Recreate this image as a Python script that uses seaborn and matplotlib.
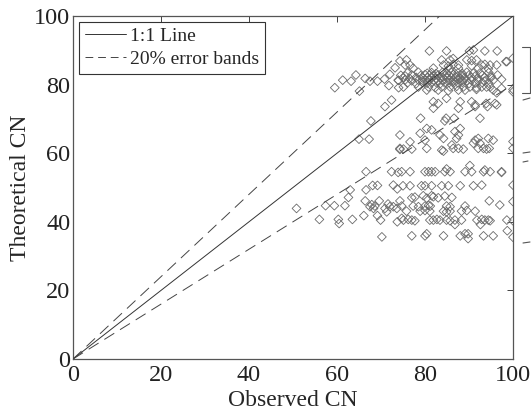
import numpy as np
import pandas as pd
import matplotlib
matplotlib.use("Agg")
import matplotlib.pyplot as plt
from matplotlib.lines import Line2D
import seaborn as sns

# ---------------- data ----------------
# sparse points, upper-left of the upper band
obs_a = [59.5, 61.3, 63.2, 64.3, 65.1, 66.4, 67.5, 69.2, 70.8, 72.0, 73.2, 74.3, 73.9, 71.8, 74.0, 72.4, 70.9,
         67.7, 65.0, 67.3, 74.3, 74.3, 66.6, 72.4, 73.9]
theo_a = [79.1, 81.3, 81.0, 82.8, 78.1, 81.8, 81.0, 81.0, 81.6, 83.0, 84.9, 86.9, 81.3, 79.7, 79.1, 75.5, 73.6,
          69.4, 64.1, 64.1, 65.3, 61.1, 54.6, 54.6, 54.4]

# lower-left group
obs_b = [50.8, 56.0, 57.4, 59.4, 60.3, 60.5, 61.8, 62.6, 63.0, 63.5, 66.1, 66.6, 68.1, 69.2, 66.4, 67.5, 68.3,
         68.6, 69.6, 69.2, 69.9, 70.9, 72.0, 72.8, 73.6, 74.3, 70.2, 72.8, 73.7, 73.7, 74.7, 71.3, 67.9, 71.6]
theo_b = [43.9, 40.7, 44.7, 44.7, 40.7, 39.5, 44.7, 47.1, 49.3, 40.7, 41.8, 49.3, 50.6, 50.6, 46.1, 44.4, 43.9,
          44.6, 46.1, 41.8, 40.5, 43.9, 44.4, 44.4, 43.9, 46.1, 35.6, 50.7, 49.6, 40.0, 41.0, 42.9, 45.0, 45.2]

# upper band, top rows
obs_c = [81.0, 84.9, 90.1, 91.0, 93.6, 96.4,
         75.8, 83.8, 85.7, 86.4, 89.5, 90.6, 91.7, 98.6,
         75.5, 76.6, 84.2, 85.3, 86.4, 87.6, 90.6, 92.9, 93.6, 94.8, 96.3,
         77.3, 81.9, 85.7, 87.6, 92.1, 94.4]
theo_c = [89.8, 89.8, 89.8, 90.1, 89.8, 89.8,
          87.2, 87.2, 87.2, 87.6, 87.2, 87.0, 87.2, 86.7,
          85.7, 85.7, 85.7, 85.4, 85.9, 85.7, 85.5, 85.7, 85.9, 85.7, 85.7,
          84.8, 84.8, 84.6, 84.8, 84.8, 84.6]

# upper band, dense core
obs_d = [76.0, 78.5, 80.5, 81.5, 82.5, 84.0, 85.0, 86.0, 87.5, 88.5, 89.5, 91.0, 92.5, 94.5,
         74.5, 75.5, 77.0, 79.0, 80.0, 81.0, 82.0, 83.0, 84.5, 85.5, 86.5, 87.5, 88.5, 90.0, 91.5, 93.0, 95.0, 96.5,
         75.0, 76.5, 78.0, 79.5, 80.5, 81.5, 82.5, 83.5, 84.0, 85.0, 86.0, 87.0, 88.0, 89.0, 90.5, 92.0, 93.5, 95.0,
         74.0, 75.5, 77.0, 78.5, 79.5, 80.5, 81.0, 82.0, 83.0, 84.0, 85.5, 86.5, 87.5, 88.5, 89.5, 90.5, 92.0, 93.5, 95.5,
         76.0, 78.0, 79.5, 80.5, 81.5, 82.5, 83.5, 84.5, 85.5, 86.5, 87.5, 88.5, 90.0, 91.5, 93.0, 94.5]
theo_d = [83.4, 83.6, 83.3, 83.5, 83.2, 83.6, 83.3, 83.5, 83.4, 83.2, 83.6, 83.3, 83.4, 83.5,
          82.7, 82.5, 82.8, 82.6, 82.9, 82.7, 82.5, 82.8, 82.6, 82.7, 82.9, 82.5, 82.7, 82.8, 82.6, 82.7, 82.5, 82.8,
          82.0, 81.8, 82.1, 81.9, 82.0, 82.2, 81.8, 82.0, 82.1, 81.9, 82.0, 82.2, 81.8, 82.0, 82.1, 81.9, 82.0, 82.1,
          81.2, 81.4, 81.1, 81.3, 81.2, 81.0, 81.4, 81.2, 81.1, 81.3, 81.2, 81.0, 81.4, 81.2, 81.1, 81.3, 81.2, 81.0, 81.3,
          80.5, 80.3, 80.6, 80.4, 80.5, 80.7, 80.3, 80.5, 80.6, 80.4, 80.5, 80.7, 80.3, 80.5, 80.6, 80.4]

# upper band, lower rows
obs_e = [75.1, 78.5, 80.8, 82.3, 83.8, 85.7, 87.2, 88.7, 90.2, 91.7, 92.9, 94.0, 94.8,
         80.4, 83.0, 85.3, 87.6, 89.1, 91.7, 95.5, 96.3, 97.4,
         81.9, 83.0, 84.9, 88.0, 90.6, 93.9, 95.9, 91.4]
theo_e = [79.3, 79.3, 79.3, 79.1, 79.3, 79.3, 79.5, 79.3, 79.3, 79.1, 79.3, 79.3, 79.3,
          78.4, 78.4, 78.2, 78.4, 78.4, 78.6, 78.4, 77.6, 78.9,
          75.0, 74.5, 76.0, 75.0, 75.0, 74.5, 74.5, 74.1]

# middle group (60-75)
obs_f = [81.9, 87.6, 91.4, 94.2, 96.3,
         79.0, 84.8, 86.6, 92.5, 84.5,
         80.4, 81.5, 78.9, 88.0, 86.8, 87.6, 83.4,
         76.6, 80.0, 84.2, 87.2, 91.4, 92.1, 94.4, 95.5, 91.0, 92.5,
         74.3, 75.1, 77.0, 80.4, 83.8, 84.2, 86.1, 86.4, 87.6, 88.7, 92.1, 93.3, 94.0, 94.6]
theo_f = [73.1, 73.1, 73.6, 73.6, 74.1,
          70.2, 70.2, 70.2, 70.2, 69.4,
          67.2, 66.8, 65.8, 67.2, 66.3, 65.3, 65.3,
          63.3, 63.8, 64.3, 64.3, 63.8, 64.3, 64.3, 63.8, 62.9, 62.9,
          61.4, 61.2, 61.2, 61.4, 60.9, 60.6, 62.4, 61.4, 61.4, 61.2, 61.4, 61.4, 61.2, 61.4]

# row near 55
obs_g = [74.7, 76.6, 80.0, 80.8, 81.5, 82.3, 84.5, 85.7, 89.1, 90.6, 93.3, 94.8, 97.4, 90.2, 84.9, 93.6, 97.4]
theo_g = [54.6, 54.6, 54.6, 54.6, 54.6, 54.6, 54.6, 54.6, 54.6, 54.6, 54.6, 54.6, 54.6, 56.4, 55.4, 55.1, 54.4]

# lower-right group (35-51)
obs_h = [75.0, 76.6, 79.2, 80.0, 81.5, 83.8, 85.3, 88.0, 91.0, 92.9,
         79.6, 81.5,
         77.0, 77.7, 80.4, 81.9, 83.0, 84.5, 86.1, 94.6, 97.0,
         74.7, 77.3, 78.5, 80.0, 80.8, 81.2, 84.9, 85.7, 89.1,
         75.8, 78.9, 80.0, 81.1, 84.2, 84.9, 85.7, 88.3, 89.5, 91.4,
         75.1, 76.2, 77.0, 77.7, 81.1, 81.9, 82.7, 83.4, 84.9, 85.7, 86.8, 88.3, 91.8, 92.9, 93.6, 94.4, 94.8, 98.6,
         86.8, 92.6,
         77.0, 80.0, 80.4, 84.2, 88.0, 89.1, 89.8, 93.3, 95.5, 89.8, 98.7]
theo_h = [50.5, 50.5, 50.5, 50.5, 50.5, 50.5, 50.5, 50.5, 50.5, 50.7,
          47.6, 47.6,
          47.0, 47.2, 46.9, 47.3, 47.0, 47.5, 47.1, 46.1, 44.9,
          44.6, 44.6, 44.4, 44.6, 44.8, 44.6, 44.6, 44.4, 44.6,
          43.1, 43.1, 43.3, 43.1, 43.1, 42.9, 43.1, 43.1, 43.3, 43.1,
          40.5, 40.7, 40.5, 40.3, 40.5, 40.5, 40.7, 40.5, 40.5, 40.3, 40.5, 40.5, 40.5, 40.7, 40.5, 40.5, 40.3, 40.5,
          39.2, 39.2,
          35.9, 35.9, 36.5, 35.9, 35.9, 36.5, 35.1, 35.9, 35.9, 36.5, 37.4]

# points sitting on the right axis (Observed CN = 100)
obs_i = [100, 100, 100, 100, 100, 100, 100, 100, 100, 98.4, 97.4]
theo_i = [87.7, 78.6, 77.9, 63.4, 61.4, 50.7, 45.9, 40.3, 35.5, 86.7, 81.5]

# reference lines
line_x = [0, 100]
ratio_one = 1.0
ratio_hi = 1.2
ratio_lo = 0.8

# ---------------- figure ----------------
sns.set_style("white")
plt.rcParams["font.family"] = ["Liberation Serif", "DejaVu Serif"]

obs = obs_a + obs_b + obs_c + obs_d + obs_e + obs_f + obs_g + obs_h + obs_i
theo = theo_a + theo_b + theo_c + theo_d + theo_e + theo_f + theo_g + theo_h + theo_i
df = pd.DataFrame({"Observed CN": obs, "Theoretical CN": theo})

fig = plt.figure(figsize=(5.31, 4.16), dpi=100)
ax = fig.add_axes([73 / 531, 57 / 416, 440 / 531, 343 / 416])

sns.scatterplot(data=df, x="Observed CN", y="Theoretical CN", ax=ax, marker="D",
                s=20, facecolor="none", edgecolor="#6a6a6a", linewidth=0.6, legend=False, zorder=2)

lx = np.array(line_x, dtype=float)
sns.lineplot(x=lx, y=lx * ratio_one, ax=ax, color="#333333", linewidth=0.7, zorder=3)
sns.lineplot(x=lx, y=lx * ratio_hi, ax=ax, color="#444444", linewidth=0.7, zorder=3)
sns.lineplot(x=lx, y=lx * ratio_lo, ax=ax, color="#444444", linewidth=0.7, zorder=3)
lines = ax.get_lines()
for ln in lines[1:]:
    ln.set_linestyle((0, (12, 7)))

ax.set_xlim(0, 100)
ax.set_ylim(0, 100)
ax.set_xticks([0, 20, 40, 60, 80, 100])
ax.set_yticks([0, 20, 40, 60, 80, 100])
ax.tick_params(direction="in", length=4, width=0.6, colors="#222222", labelsize=17.5,
               top=True, right=True)
ax.tick_params(axis="x", pad=4.5)
ax.tick_params(axis="y", pad=2)
for sp in ax.spines.values():
    sp.set_color("#555555")
    sp.set_linewidth(0.9)
ax.set_xlabel("Observed CN", fontsize=17, labelpad=2.5)
ax.set_ylabel("Theoretical CN", fontsize=17, labelpad=2)

handles = [Line2D([], [], color="#333333", linewidth=0.7),
           Line2D([], [], color="#444444", linewidth=0.7, linestyle=(0, (8, 5)))]
leg = ax.legend(handles, ["1:1 Line", "20% error bands"], loc="upper left", fontsize=14,
                frameon=True, fancybox=False, edgecolor="#333333", framealpha=1,
                handlelength=2.1, handletextpad=0.25, borderaxespad=0.3, borderpad=0.3,
                labelspacing=0.26)
leg.get_frame().set_linewidth(0.8)

# bracket / marks outside the right edge
def fig_line(xs, ys):
    fig.add_artist(Line2D([x / 531 for x in xs], [1 - y / 416 for y in ys],
                          color="#555555", linewidth=0.8))

fig_line([522, 530, 530, 522], [47, 47, 93, 93])
fig_line([523, 530], [100, 98])
fig_line([523, 530], [153, 152])
fig_line([523, 528], [162, 161])
fig_line([523, 530], [243, 242])

fig.savefig("out.png", dpi=100)
